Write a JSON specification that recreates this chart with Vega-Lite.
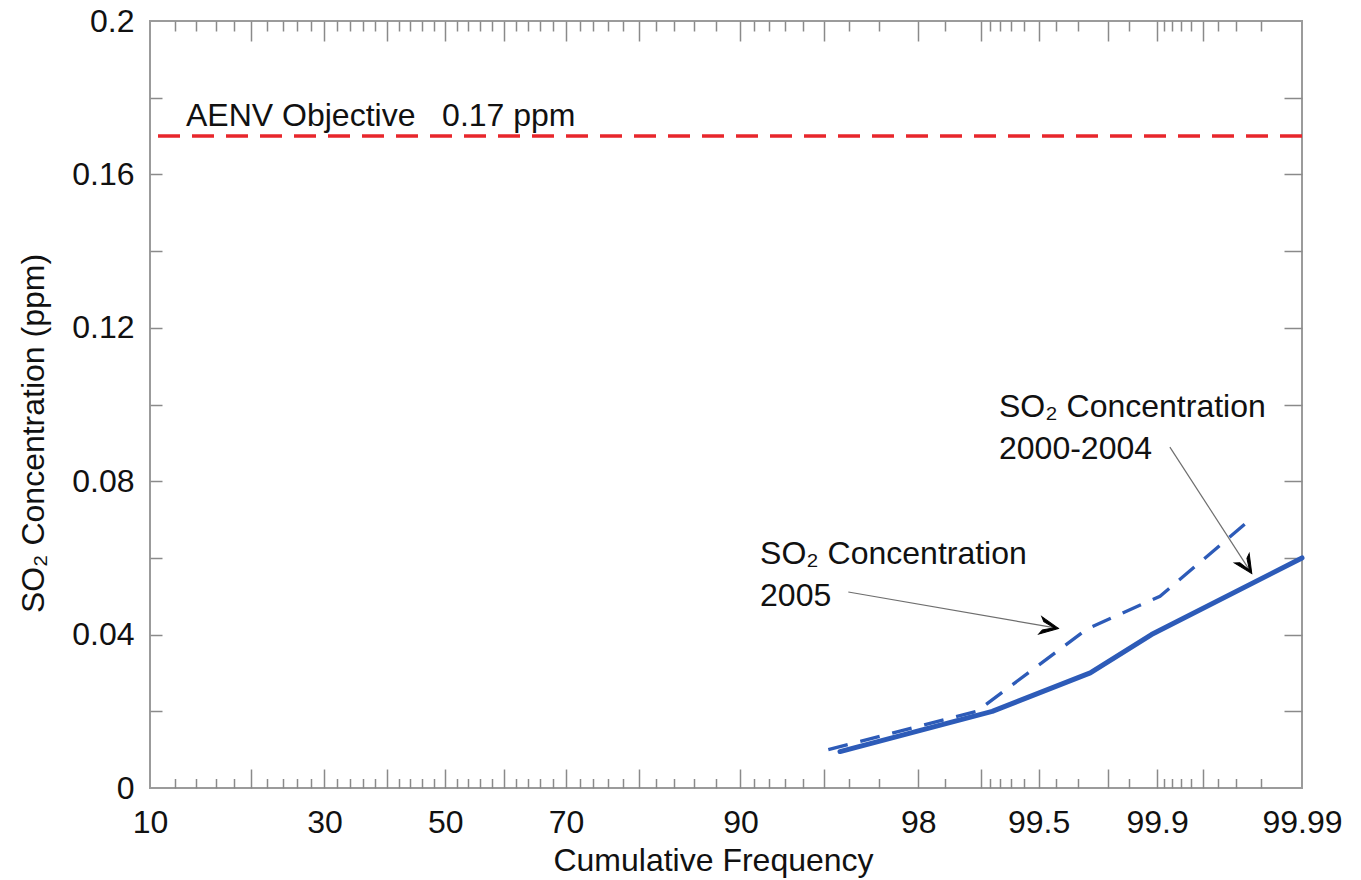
{
  "$schema": "https://vega.github.io/schema/vega-lite/v6.json",
  "width": 1152,
  "height": 767,
  "autosize": {"type": "none"},
  "padding": {"left": 150, "top": 21, "right": 59, "bottom": 92},
  "background": "white",
  "datasets": {
    "so2": [
      {"series": "2000-2004", "freq": 95.65, "ppm": 0.0095},
      {"series": "2000-2004", "freq": 99.12, "ppm": 0.02},
      {"series": "2000-2004", "freq": 99.74, "ppm": 0.03},
      {"series": "2000-2004", "freq": 99.89, "ppm": 0.04},
      {"series": "2000-2004", "freq": 99.99, "ppm": 0.06},
      {"series": "2005", "freq": 95.17, "ppm": 0.01},
      {"series": "2005", "freq": 98.94, "ppm": 0.02},
      {"series": "2005", "freq": 99.73, "ppm": 0.0415},
      {"series": "2005", "freq": 99.904, "ppm": 0.05},
      {"series": "2005", "freq": 99.974, "ppm": 0.069}
    ],
    "arrows": [
      {"name": "2005", "freq": 95.99, "ppm": 0.0511, "freq2": 99.61, "ppm2": 0.0416},
      {"name": "2000-2004", "freq": 99.917, "ppm": 0.0889, "freq2": 99.9764, "ppm2": 0.0559}
    ],
    "notes": [
      {"text": "SO₂ Concentration", "freq": 99.188, "ppm": 0.0967},
      {"text": "2000-2004", "freq": 99.188, "ppm": 0.0859},
      {"text": "SO₂ Concentration", "freq": 91.4, "ppm": 0.0585},
      {"text": "2005", "freq": 91.4, "ppm": 0.0474},
      {"text": "AENV Objective\u00a0\u00a0\u00a00.17 ppm", "freq": 13.05, "ppm": 0.1726}
    ],
    "objective": [{"name": "AENV Objective", "ppm": 0.17}]
  },
  "layer": [
    {
      "data": {"name": "objective"},
      "mark": {"type": "rule", "color": "#e8262b", "strokeWidth": 3.5, "strokeDash": [22, 12]},
      "encoding": {
        "y": {
          "field": "ppm", "type": "quantitative",
          "scale": {"domain": [0, 0.2], "nice": false, "zero": true},
          "axis": {
            "orient": "left",
            "values": [0, 0.04, 0.08, 0.12, 0.16, 0.2],
            "format": ".2~f",
            "ticks": false,
            "labelPadding": 16,
            "title": "SO₂ Concentration (ppm)",
            "titleX": -107,
            "titleY": 412,
            "titleAlign": "center",
            "titleBaseline": "alphabetic"
          }
        }
      }
    },
    {
      "data": {"name": "so2"},
      "transform": [{"filter": "datum.series === '2000-2004'"}],
      "mark": {"type": "line", "color": "#2d5bb8", "strokeWidth": 5, "strokeCap": "round", "strokeJoin": "round"},
      "encoding": {
        "x": {
          "field": "freq", "type": "quantitative",
          "scale": {
            "type": "linear", "nice": false, "zero": false,
            "domain": [10,12,14,16,18,20,22,24,26,28,30,32,34,36,38,40,42,44,46,48,50,52,54,56,58,60,62,64,66,68,70,72,74,76,78,80,82,84,86,88,90,91,92,93,94,95,96,97,98,98.5,99,99.1,99.2,99.3,99.4,99.5,99.6,99.7,99.8,99.85,99.9,99.91,99.92,99.93,99.94,99.95,99.96,99.97,99.98,99.99],
            "range": [0,24.55,46.36,66.14,84.36,101.35,117.34,132.52,147.02,160.96,174.43,187.49,200.22,212.66,224.86,236.87,248.73,260.46,272.1,283.68,295.24,306.79,318.38,330.02,341.75,353.6,365.61,377.82,390.26,402.98,416.05,429.51,443.45,457.95,473.13,489.13,506.12,524.34,544.12,565.93,590.47,604.11,618.93,635.22,653.41,674.17,698.55,728.52,768.37,795.17,831.17,840.22,850.19,861.33,873.97,888.64,906.21,928.25,958.29,978.93,1007.14,1014.32,1022.27,1031.2,1041.39,1053.29,1067.63,1085.79,1110.78,1152]
          },
          "axis": {
            "orient": "bottom",
            "values": [10, 30, 50, 70, 90, 98, 99.5, 99.9, 99.99],
            "labelExpr": "'' + datum.value",
            "ticks": false,
            "labelPadding": 19,
            "title": "Cumulative Frequency",
            "titleX": 563,
            "titleY": 82,
            "titleAlign": "center",
            "titleBaseline": "alphabetic"
          }
        },
        "y": {
          "field": "ppm", "type": "quantitative",
          "axis": {"orient": "right", "values": [0.02, 0.04, 0.06, 0.08, 0.1, 0.12, 0.14, 0.16, 0.18], "labels": false, "tickSize": -18, "title": null}
        }
      }
    },
    {
      "data": {"name": "so2"},
      "transform": [{"filter": "datum.series === '2005'"}],
      "mark": {"type": "line", "color": "#2d5bb8", "strokeWidth": 3.3, "strokeDash": [20, 13]},
      "encoding": {
        "x": {
          "field": "freq", "type": "quantitative",
          "axis": {"orient": "bottom", "values": [20,30,40,50,60,70,80,90,95,98,99,99.5,99.8,99.9,99.95], "labels": false, "tickSize": -19, "title": null}
        },
        "y": {
          "field": "ppm", "type": "quantitative",
          "axis": {"orient": "left", "values": [0.02, 0.04, 0.06, 0.08, 0.1, 0.12, 0.14, 0.16, 0.18], "labels": false, "tickSize": -12, "title": null}
        }
      }
    },
    {
      "data": {"name": "arrows"},
      "mark": {"type": "rule", "color": "#6e6e6e", "strokeWidth": 1.2},
      "encoding": {
        "x": {
          "field": "freq", "type": "quantitative",
          "axis": {"orient": "bottom", "values": [12,14,16,18,22,24,26,28,32,34,36,38,42,44,46,48,52,54,56,58,62,64,66,68,72,74,76,78,82,84,86,88,91,92,93,94,96,97,98.5,99.1,99.2,99.3,99.4,99.6,99.7,99.85,99.91,99.92,99.93,99.94,99.96,99.97,99.98], "labels": false, "tickSize": -9.5, "title": null}
        },
        "x2": {"field": "freq2"},
        "y": {"field": "ppm", "type": "quantitative", "axis": null},
        "y2": {"field": "ppm2"}
      }
    },
    {
      "data": {"name": "arrows"},
      "transform": [{"filter": "datum.name === '2005'"}],
      "mark": {"type": "point", "shape": "M0,0L-1.3,-0.62L-1.1,-0.3L-0.3,0L-1.1,0.3L-1.3,0.62Z", "filled": true, "fill": "#000", "stroke": "#000", "strokeWidth": 1, "size": 800, "angle": 9.9, "opacity": 1},
      "encoding": {
        "x": {
          "field": "freq2", "type": "quantitative",
          "axis": {"orient": "top", "values": [20,30,40,50,60,70,80,90,95,98,99,99.5,99.8,99.9,99.95], "labels": false, "tickSize": -20, "title": null}
        },
        "y": {"field": "ppm2", "type": "quantitative", "axis": null}
      }
    },
    {
      "data": {"name": "arrows"},
      "transform": [{"filter": "datum.name === '2000-2004'"}],
      "mark": {"type": "point", "shape": "M0,0L-1.3,-0.62L-1.1,-0.3L-0.3,0L-1.1,0.3L-1.3,0.62Z", "filled": true, "fill": "#000", "stroke": "#000", "strokeWidth": 1, "size": 800, "angle": 57.2, "opacity": 1},
      "encoding": {
        "x": {
          "field": "freq2", "type": "quantitative",
          "axis": {"orient": "top", "values": [12,14,16,18,22,24,26,28,32,34,36,38,42,44,46,48,52,54,56,58,62,64,66,68,72,74,76,78,82,84,86,88,91,92,93,94,96,97,98.5,99.1,99.2,99.3,99.4,99.6,99.7,99.85,99.91,99.92,99.93,99.94,99.96,99.97,99.98], "labels": false, "tickSize": -10, "title": null}
        },
        "y": {"field": "ppm2", "type": "quantitative", "axis": null}
      }
    },
    {
      "data": {"name": "notes"},
      "mark": {"type": "text", "align": "left", "baseline": "alphabetic", "font": "Liberation Sans", "fontSize": 32, "color": "#111"},
      "encoding": {
        "x": {"field": "freq", "type": "quantitative", "axis": null},
        "y": {"field": "ppm", "type": "quantitative", "axis": null},
        "text": {"field": "text"}
      }
    }
  ],
  "resolve": {"axis": {"x": "independent", "y": "independent"}},
  "config": {
    "view": {"stroke": "#9b9b9b", "strokeWidth": 2},
    "axis": {
      "grid": false,
      "domain": false,
      "labelFont": "Liberation Sans",
      "labelFontSize": 32,
      "labelColor": "#111",
      "labelFlush": false,
      "labelOverlap": false,
      "labelBound": false,
      "titleFont": "Liberation Sans",
      "titleFontSize": 32,
      "titleFontWeight": "normal",
      "titleColor": "#111",
      "tickColor": "#8a8a8a",
      "tickWidth": 1.5
    }
  }
}
